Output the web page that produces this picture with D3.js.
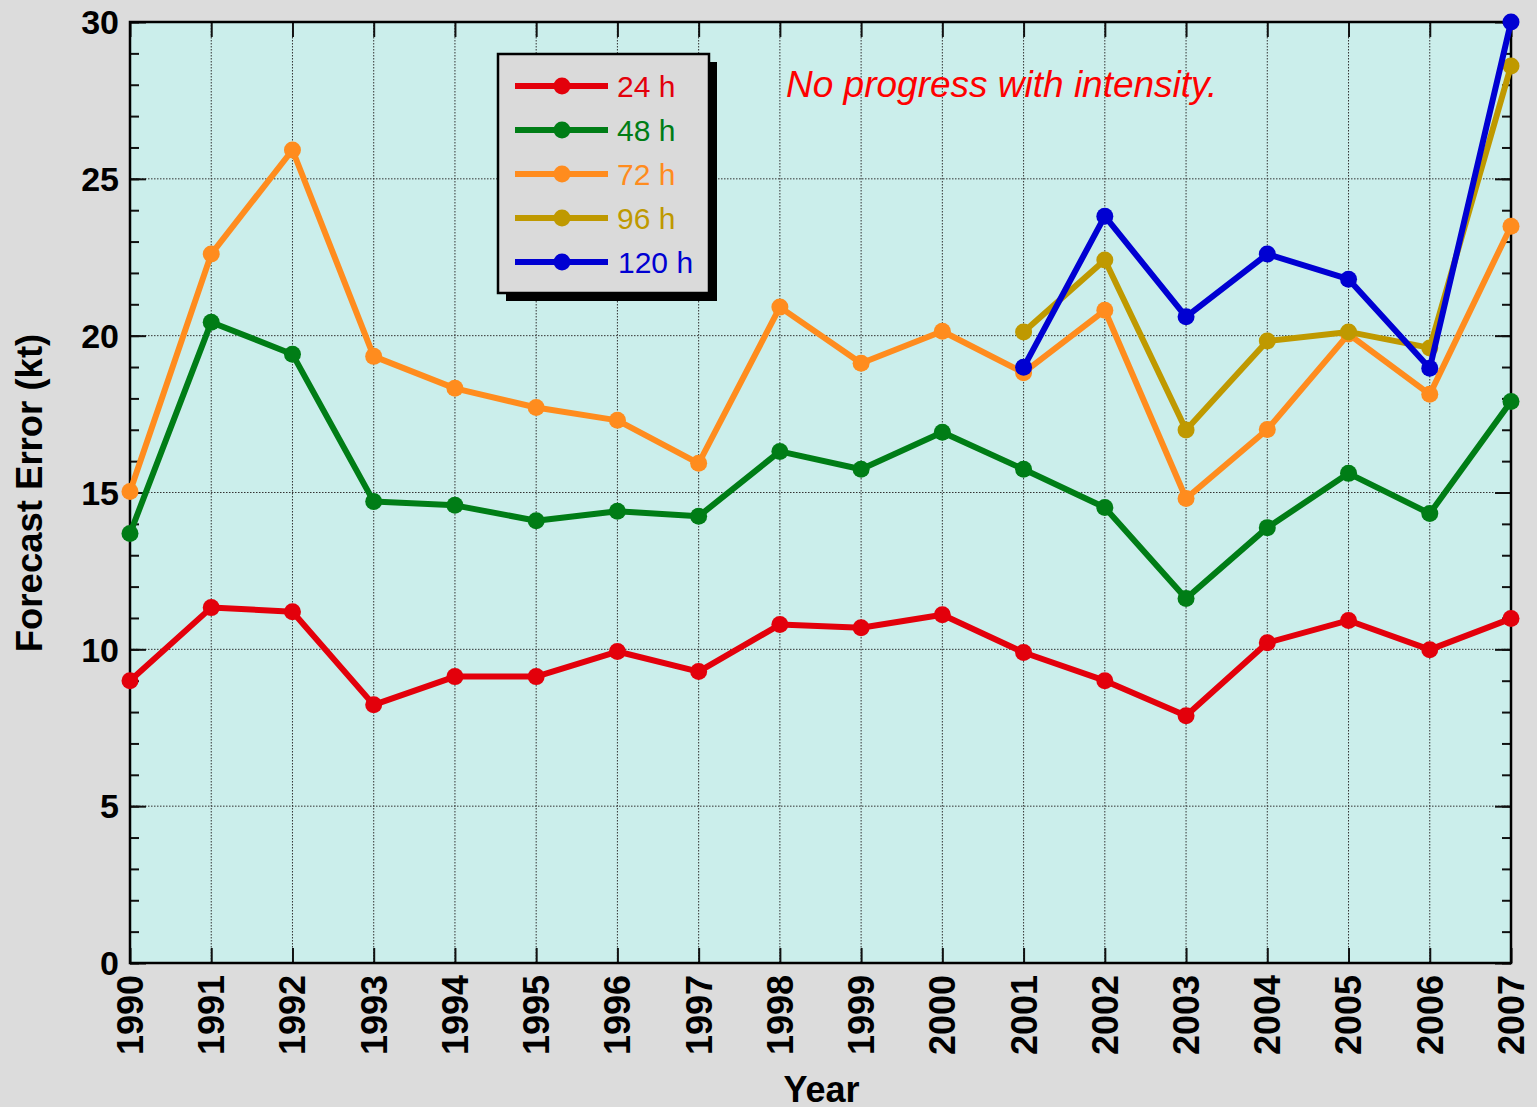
<!DOCTYPE html>
<html>
<head>
<meta charset="utf-8">
<script src="https://cdn.jsdelivr.net/npm/d3@7"></script>
<style>
  html, body { margin: 0; padding: 0; background: #dcdcdc; }
  svg { display: block; font-family: "Liberation Sans", Arial, sans-serif; }
</style>
</head>
<body>
<div id="chart"></div>
<script>
// Data
const years = [1990, 1991, 1992, 1993, 1994, 1995, 1996, 1997, 1998, 1999,
  2000, 2001, 2002, 2003, 2004, 2005, 2006, 2007]
const err24 = [9.0, 11.33, 11.2, 8.23, 9.13, 9.13, 9.93, 9.29, 10.79, 10.69,
  11.1, 9.9, 9.0, 7.88, 10.21, 10.92, 9.99, 10.98]
const err48 = [13.69, 20.43, 19.41, 14.71, 14.59, 14.1, 14.4, 14.24, 16.31, 15.74,
  16.92, 15.74, 14.52, 11.62, 13.88, 15.61, 14.33, 17.9]
const err72 = [15.03, 22.6, 25.92, 19.34, 18.32, 17.71, 17.3, 15.93, 20.91, 19.12,
  20.14, 18.82, 20.81, 14.81, 17.01, 20.05, 18.13, 23.49]
const years5day = [2001, 2002, 2003, 2004, 2005, 2006, 2007]
const err96 = [20.12, 22.41, 16.99, 19.83, 20.12, 19.61, 28.6]
const err120 = [18.99, 23.81, 20.6, 22.6, 21.8, 18.96, 30.0]
const yTicks = [0, 5, 10, 15, 20, 25, 30]
const seriesNames = ['24 h', '48 h', '72 h', '96 h', '120 h']
const seriesColors = ['#e3000b', '#007d16', '#ff8c1e', '#bf9900', '#0000d2']

const series = [
  { name: seriesNames[0], color: seriesColors[0], x: years, y: err24 },
  { name: seriesNames[1], color: seriesColors[1], x: years, y: err48 },
  { name: seriesNames[2], color: seriesColors[2], x: years, y: err72 },
  { name: seriesNames[3], color: seriesColors[3], x: years5day, y: err96 },
  { name: seriesNames[4], color: seriesColors[4], x: years5day, y: err120 },
]

// Dimensions
const dims = { width: 1537, height: 1107, left: 130, top: 22, right: 26, bottom: 144 }
dims.ctrWidth = dims.width - dims.left - dims.right
dims.ctrHeight = dims.height - dims.top - dims.bottom

const svg = d3.select('#chart')
  .append('svg')
  .attr('width', dims.width)
  .attr('height', dims.height)

svg.append('rect')
  .attr('width', dims.width)
  .attr('height', dims.height)
  .attr('fill', '#dcdcdc')

const ctr = svg.append('g')
  .attr('transform', `translate(${dims.left}, ${dims.top})`)

// Scales
const xScale = d3.scaleLinear()
  .domain([1990, 2007])
  .range([0, dims.ctrWidth])

const yScale = d3.scaleLinear()
  .domain([0, 30])
  .range([dims.ctrHeight, 0])

ctr.append('rect')
  .attr('width', dims.ctrWidth)
  .attr('height', dims.ctrHeight)
  .attr('fill', '#cbeeeb')

// Grid
ctr.append('g')
  .selectAll('line')
  .data(years.slice(1, -1))
  .join('line')
  .attr('x1', d => xScale(d))
  .attr('x2', d => xScale(d))
  .attr('y1', 0)
  .attr('y2', dims.ctrHeight)
  .attr('stroke', '#333')
  .attr('stroke-width', 1)
  .attr('stroke-dasharray', '1.5,1.5')

ctr.append('g')
  .selectAll('line')
  .data(yTicks.slice(1, -1))
  .join('line')
  .attr('x1', 0)
  .attr('x2', dims.ctrWidth)
  .attr('y1', d => yScale(d))
  .attr('y2', d => yScale(d))
  .attr('stroke', '#333')
  .attr('stroke-width', 1)
  .attr('stroke-dasharray', '1.5,1.5')

// Axes (ticks point inward)
const minorTicks = d3.range(0, 31)
const yAxisLeft = d3.axisRight(yScale)
  .tickValues(minorTicks)
  .tickSize(9)
  .tickFormat('')
const yAxisRight = d3.axisLeft(yScale)
  .tickValues(minorTicks)
  .tickSize(9)
  .tickFormat('')
const yMajorLeft = d3.axisRight(yScale).tickValues(yTicks).tickSize(16).tickFormat('')
const yMajorRight = d3.axisLeft(yScale).tickValues(yTicks).tickSize(16).tickFormat('')
const xAxisBottom = d3.axisTop(xScale).tickValues(years).tickSize(15).tickFormat('')
const xAxisTop = d3.axisBottom(xScale).tickValues(years).tickSize(15).tickFormat('')

const tickGroups = [
  ctr.append('g').call(yAxisLeft),
  ctr.append('g').call(yMajorLeft),
  ctr.append('g').attr('transform', `translate(${dims.ctrWidth},0)`).call(yAxisRight),
  ctr.append('g').attr('transform', `translate(${dims.ctrWidth},0)`).call(yMajorRight),
  ctr.append('g').attr('transform', `translate(0,${dims.ctrHeight})`).call(xAxisBottom),
  ctr.append('g').call(xAxisTop),
]
tickGroups.forEach(g => {
  g.select('.domain').remove()
  g.selectAll('line').attr('stroke', '#111').attr('stroke-width', 2)
})

// Frame
ctr.append('rect')
  .attr('width', dims.ctrWidth)
  .attr('height', dims.ctrHeight)
  .attr('fill', 'none')
  .attr('stroke', '#000')
  .attr('stroke-width', 2.5)

// Tick labels
ctr.append('g')
  .selectAll('text')
  .data(yTicks)
  .join('text')
  .attr('x', -11)
  .attr('y', d => yScale(d))
  .attr('dy', '0.36em')
  .attr('text-anchor', 'end')
  .attr('font-size', 34)
  .attr('font-weight', 'bold')
  .attr('fill', '#000')
  .text(d => d)

ctr.append('g')
  .selectAll('text')
  .data(years)
  .join('text')
  .attr('transform', d => `translate(${xScale(d)}, ${dims.ctrHeight + 12}) rotate(-90)`)
  .attr('dy', '0.36em')
  .attr('text-anchor', 'end')
  .attr('font-size', 36)
  .attr('font-weight', 'bold')
  .attr('fill', '#000')
  .text(d => d)

// Axis titles
svg.append('text')
  .attr('x', dims.left + dims.ctrWidth / 2 + 1)
  .attr('y', 1102)
  .attr('text-anchor', 'middle')
  .attr('font-size', 36)
  .attr('font-weight', 'bold')
  .text('Year')

svg.append('text')
  .attr('transform', 'translate(42, 493) rotate(-90)')
  .attr('text-anchor', 'middle')
  .attr('font-size', 36.5)
  .attr('font-weight', 'bold')
  .text('Forecast Error (kt)')

// Lines
const lineGenerator = d3.line()
  .x(d => xScale(d[0]))
  .y(d => yScale(d[1]))

series.forEach(s => {
  const pts = s.x.map((x, i) => [x, s.y[i]])
  const g = ctr.append('g')
  g.append('path')
    .datum(pts)
    .attr('d', lineGenerator)
    .attr('fill', 'none')
    .attr('stroke', s.color)
    .attr('stroke-width', 6)
    .attr('stroke-linejoin', 'round')
  g.selectAll('circle')
    .data(pts)
    .join('circle')
    .attr('cx', d => xScale(d[0]))
    .attr('cy', d => yScale(d[1]))
    .attr('r', 8.5)
    .attr('fill', s.color)
})

// Annotation
svg.append('text')
  .attr('x', 786)
  .attr('y', 97)
  .attr('font-size', 37)
  .attr('font-style', 'italic')
  .attr('fill', '#ff0000')
  .text('No progress with intensity.')

// Legend
const legend = svg.append('g')
  .attr('transform', 'translate(498, 54)')

legend.append('rect')
  .attr('x', 8)
  .attr('y', 8)
  .attr('width', 211)
  .attr('height', 239)
  .attr('fill', '#000')

legend.append('rect')
  .attr('width', 211)
  .attr('height', 239)
  .attr('fill', '#dadada')
  .attr('stroke', '#000')
  .attr('stroke-width', 2.5)

const legendRows = legend.selectAll('.row')
  .data(series)
  .join('g')
  .attr('class', 'row')
  .attr('transform', (d, i) => `translate(0, ${32 + i * 44})`)

legendRows.append('line')
  .attr('x1', 17)
  .attr('x2', 110)
  .attr('stroke', d => d.color)
  .attr('stroke-width', 6)

legendRows.append('circle')
  .attr('cx', 64)
  .attr('r', 8.5)
  .attr('fill', d => d.color)

legendRows.append('text')
  .attr('x', (d, i) => i === 4 ? 120 : 119)
  .attr('dy', '0.36em')
  .attr('font-size', 30)
  .attr('fill', d => d.color)
  .text(d => d.name)
</script>
</body>
</html>
